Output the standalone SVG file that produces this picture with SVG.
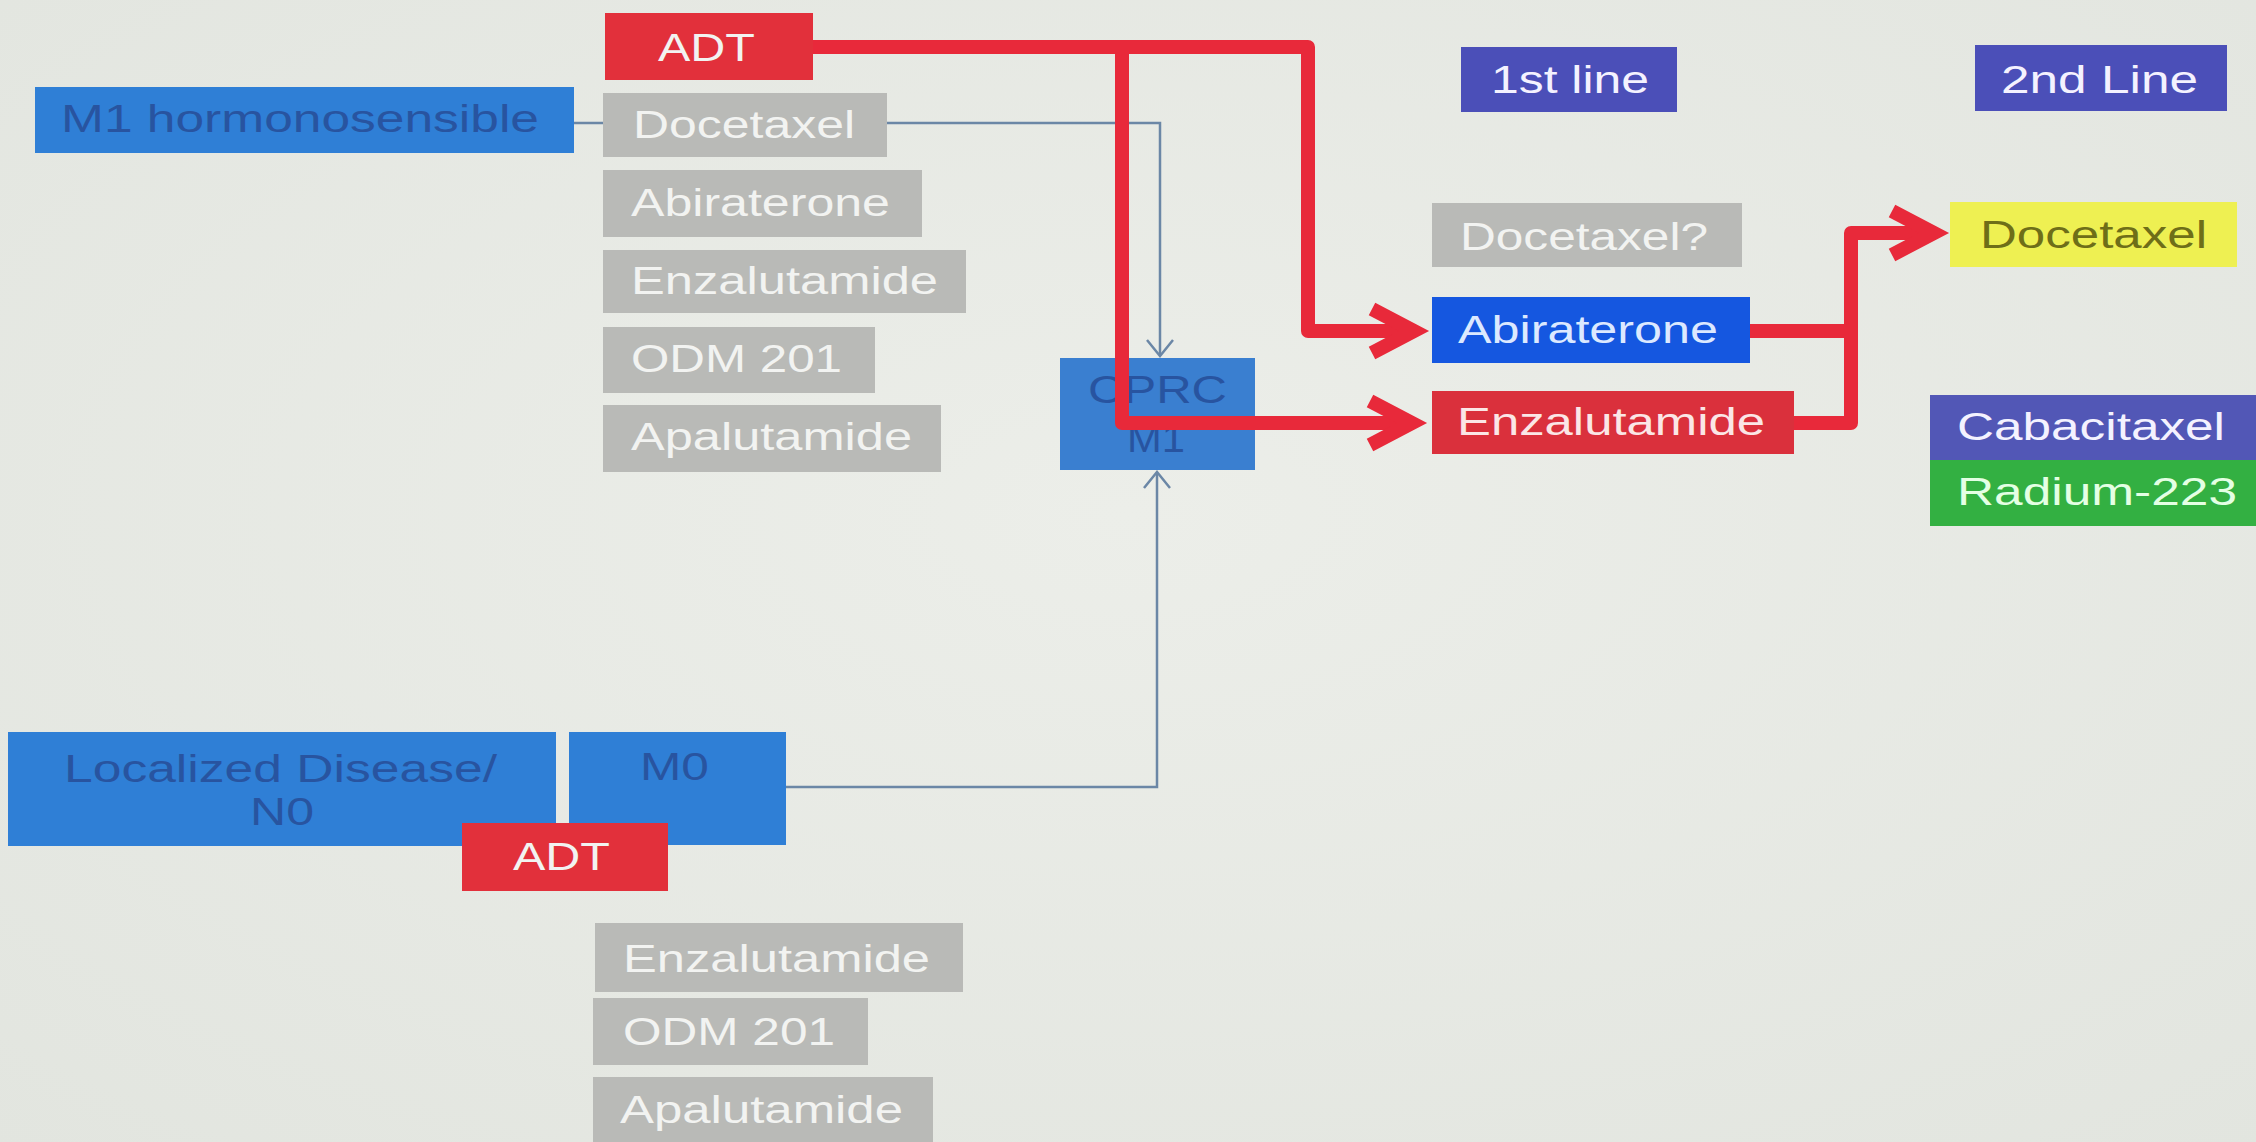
<svg xmlns="http://www.w3.org/2000/svg" width="2256" height="1142" viewBox="0 0 2256 1142">
  <defs>
    <radialGradient id="bg" cx="50%" cy="45%" r="75%">
      <stop offset="0" stop-color="#eceee9"/>
      <stop offset="1" stop-color="#e2e5df"/>
    </radialGradient>
    <style>
      text { font-family: "Liberation Sans", Arial, sans-serif; font-size: 38px; }
      .red { fill: #e2303b; }
      .blue { fill: #2f7fd6; }
      .grey { fill: #b9bab7; }
      .indigo { fill: #4b4fb8; }
      .t-light { fill: #f2f3f1; }
      .t-white { fill: #f4f2ff; }
      .t-dark { fill: #2854a0; }
      .wire { fill: none; stroke: #6b87a6; stroke-width: 2.5; }
      .flow { fill: none; stroke: #e8293a; stroke-width: 14; stroke-linejoin: round; }
      .head { fill: none; stroke: #e8293a; stroke-width: 14; stroke-linejoin: miter; stroke-miterlimit: 10; }
    </style>
  </defs>

  <rect width="2256" height="1142" fill="url(#bg)"/>

  <!-- Hormone-sensitive metastatic branch -->
  <g id="adt-top">
    <rect class="red" x="605" y="13" width="208" height="67"/>
    <text class="t-light" x="658" y="61" textLength="97" lengthAdjust="spacingAndGlyphs">ADT</text>
  </g>
  <g id="m1-hormonosensible">
    <rect class="blue" x="35" y="87" width="539" height="66"/>
    <text class="t-dark" x="61" y="132" font-size="36" textLength="478" lengthAdjust="spacingAndGlyphs">M1 hormonosensible</text>
  </g>
  <g id="docetaxel-m1">
    <rect class="grey" x="603" y="93" width="284" height="64"/>
    <text class="t-light" x="633" y="138" textLength="222" lengthAdjust="spacingAndGlyphs">Docetaxel</text>
  </g>
  <g id="abiraterone-m1">
    <rect class="grey" x="603" y="170" width="319" height="67"/>
    <text class="t-light" x="631" y="216" textLength="259" lengthAdjust="spacingAndGlyphs">Abiraterone</text>
  </g>
  <g id="enzalutamide-m1">
    <rect class="grey" x="603" y="250" width="363" height="63"/>
    <text class="t-light" x="631" y="294" textLength="307" lengthAdjust="spacingAndGlyphs">Enzalutamide</text>
  </g>
  <g id="odm201-m1">
    <rect class="grey" x="603" y="327" width="272" height="66"/>
    <text class="t-light" x="631" y="372" textLength="211" lengthAdjust="spacingAndGlyphs">ODM 201</text>
  </g>
  <g id="apalutamide-m1">
    <rect class="grey" x="603" y="405" width="338" height="67"/>
    <text class="t-light" x="631" y="450" textLength="281" lengthAdjust="spacingAndGlyphs">Apalutamide</text>
  </g>

  <!-- Castration-resistant stage -->
  <g id="cprc-m1">
    <rect fill="#3a7fd0" x="1060" y="358" width="195" height="112"/>
    <text class="t-dark" x="1088" y="403" font-size="36" textLength="139" lengthAdjust="spacingAndGlyphs">CPRC</text>
    <text class="t-dark" x="1127" y="452" font-size="36" textLength="58" lengthAdjust="spacingAndGlyphs">M1</text>
  </g>

  <!-- Treatment lines -->
  <g id="first-line">
    <rect class="indigo" x="1461" y="47" width="216" height="65"/>
    <text class="t-white" x="1491" y="93" textLength="158" lengthAdjust="spacingAndGlyphs">1st line</text>
  </g>
  <g id="second-line">
    <rect class="indigo" x="1975" y="45" width="252" height="66"/>
    <text class="t-white" x="2001" y="93" textLength="197" lengthAdjust="spacingAndGlyphs">2nd Line</text>
  </g>
  <g id="docetaxel-first">
    <rect class="grey" x="1432" y="203" width="310" height="64"/>
    <text class="t-light" x="1460" y="250" textLength="248" lengthAdjust="spacingAndGlyphs">Docetaxel?</text>
  </g>
  <g id="abiraterone-first">
    <rect fill="#1557e0" x="1432" y="297" width="318" height="66"/>
    <text fill="#dce9ff" x="1458" y="343" textLength="260" lengthAdjust="spacingAndGlyphs">Abiraterone</text>
  </g>
  <g id="enzalutamide-first">
    <rect fill="#da303c" x="1432" y="391" width="362" height="63"/>
    <text fill="#fbe6e6" x="1457" y="435" textLength="308" lengthAdjust="spacingAndGlyphs">Enzalutamide</text>
  </g>
  <g id="docetaxel-second">
    <rect fill="#eef052" x="1950" y="202" width="287" height="65"/>
    <text fill="#6e6e18" x="1980" y="248" textLength="227" lengthAdjust="spacingAndGlyphs">Docetaxel</text>
  </g>
  <g id="cabacitaxel">
    <rect fill="#5257b6" x="1930" y="395" width="326" height="65"/>
    <text class="t-white" x="1957" y="440" textLength="268" lengthAdjust="spacingAndGlyphs">Cabacitaxel</text>
  </g>
  <g id="radium-223">
    <rect fill="#33b042" x="1930" y="460" width="326" height="66"/>
    <text fill="#e4ffe4" x="1957" y="505" textLength="280" lengthAdjust="spacingAndGlyphs">Radium-223</text>
  </g>

  <!-- Non-metastatic branch -->
  <g id="localized-disease">
    <rect class="blue" x="8" y="732" width="548" height="114"/>
    <text class="t-dark" x="64" y="782" font-size="36" textLength="433" lengthAdjust="spacingAndGlyphs">Localized Disease/</text>
    <text class="t-dark" x="250" y="825" font-size="36" textLength="64" lengthAdjust="spacingAndGlyphs">N0</text>
  </g>
  <g id="m0">
    <rect class="blue" x="569" y="732" width="217" height="113"/>
    <text class="t-dark" x="640" y="780" font-size="36" textLength="69" lengthAdjust="spacingAndGlyphs">M0</text>
  </g>
  <g id="adt-bottom">
    <rect class="red" x="462" y="823" width="206" height="68"/>
    <text class="t-light" x="513" y="870" textLength="97" lengthAdjust="spacingAndGlyphs">ADT</text>
  </g>
  <g id="enzalutamide-m0">
    <rect class="grey" x="595" y="923" width="368" height="69"/>
    <text class="t-light" x="623" y="972" textLength="307" lengthAdjust="spacingAndGlyphs">Enzalutamide</text>
  </g>
  <g id="odm201-m0">
    <rect class="grey" x="593" y="998" width="275" height="67"/>
    <text class="t-light" x="623" y="1045" textLength="212" lengthAdjust="spacingAndGlyphs">ODM 201</text>
  </g>
  <g id="apalutamide-m0">
    <rect class="grey" x="593" y="1077" width="340" height="70"/>
    <text class="t-light" x="620" y="1123" textLength="283" lengthAdjust="spacingAndGlyphs">Apalutamide</text>
  </g>

  <!-- Connectors -->
  <g id="connectors">
    <!-- thin progression links into CPRC -->
    <path class="wire" d="M574,123 H603"/>
    <path class="wire" d="M887,123 H1160 V354"/>
    <path class="wire" d="M1147,340 L1160,356 L1173,340"/>
    <path class="wire" d="M786,787 H1157 V473"/>
    <path class="wire" d="M1144,488 L1157,472 L1170,488"/>

    <!-- ADT to first-line agents -->
    <path class="flow" d="M813,47 H1308 V331 H1412"/>
    <path class="head" d="M1372,309 L1414,331 L1372,353"/>
    <path class="flow" d="M1122,47 V423 H1410"/>
    <path class="head" d="M1370,401 L1412,423 L1370,445"/>

    <!-- first-line agents to second-line docetaxel -->
    <path class="flow" d="M1750,331 H1851"/>
    <path class="flow" d="M1794,423 H1851 V233 H1930"/>
    <path class="head" d="M1892,211 L1934,233 L1892,255"/>
  </g>
</svg>
